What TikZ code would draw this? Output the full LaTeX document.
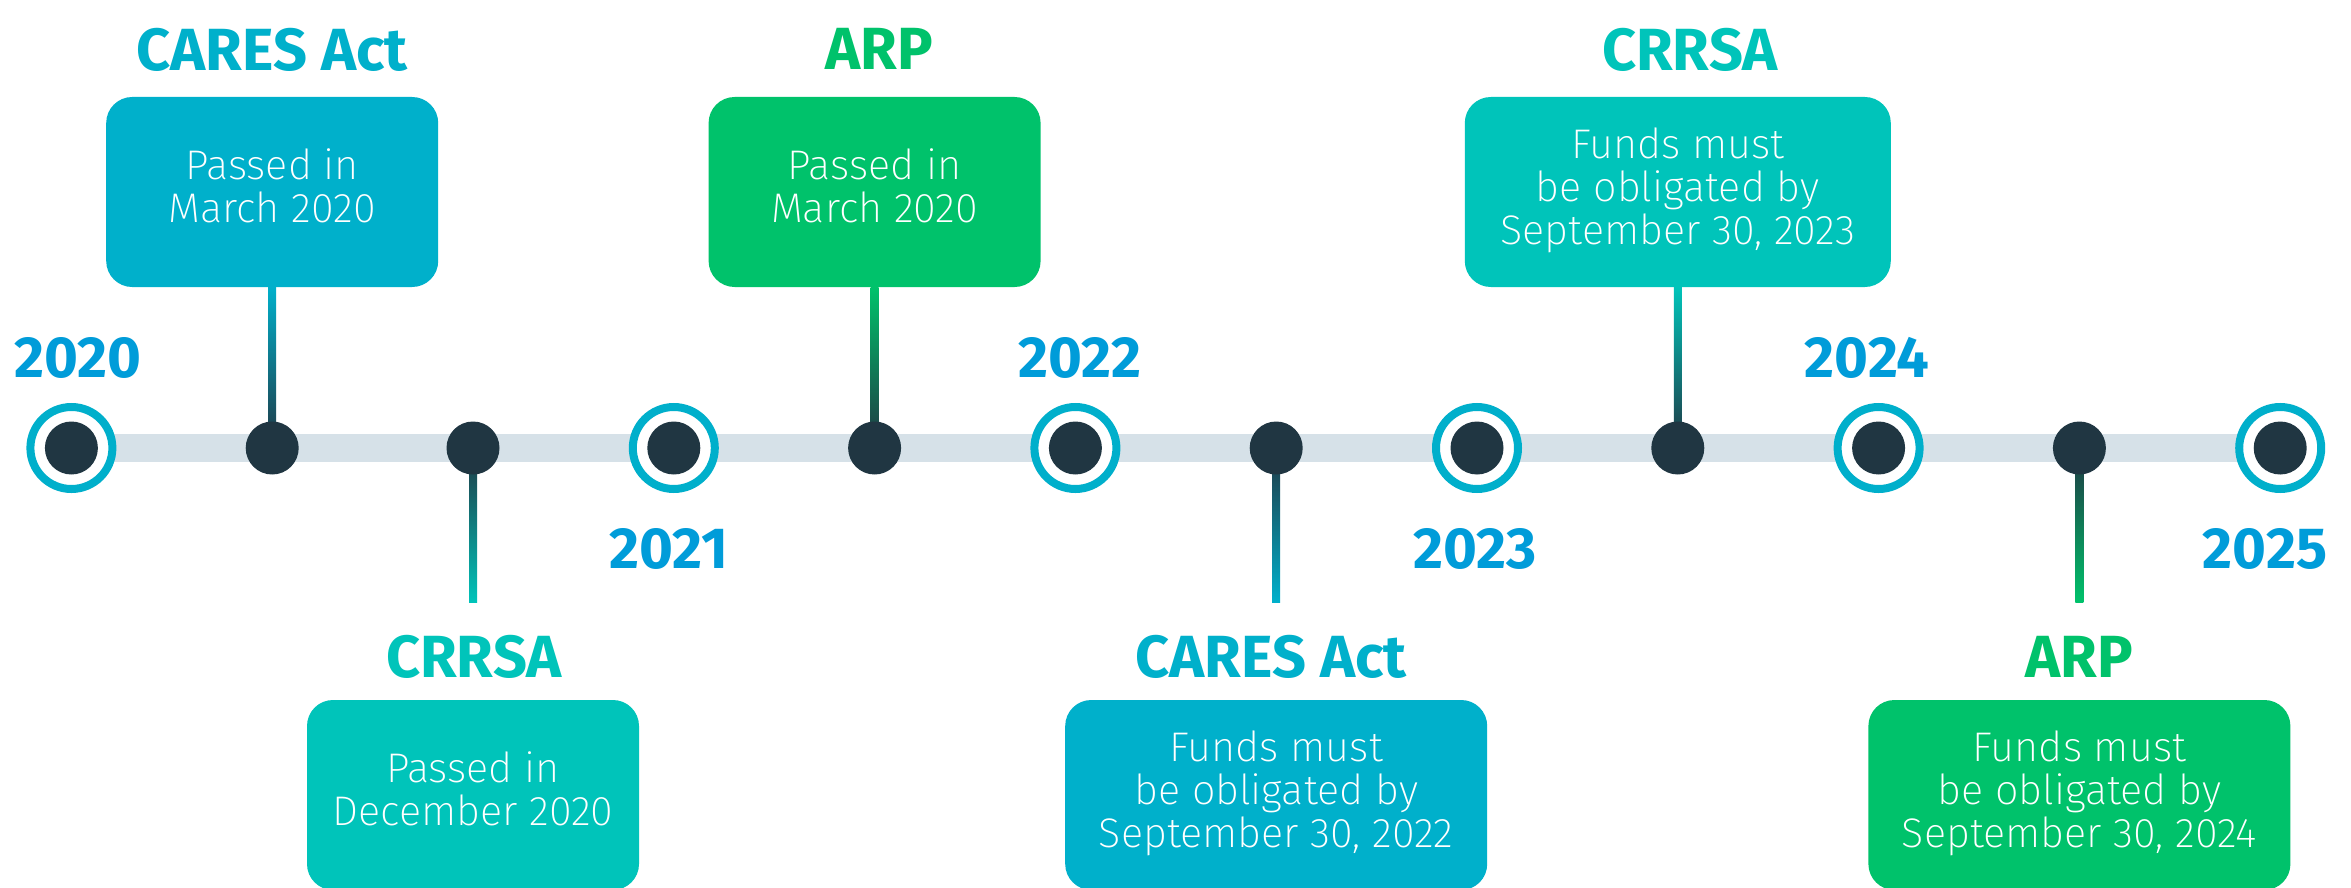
\documentclass[tikz,border=0pt]{standalone}
\usepackage{fontspec}
\setmainfont{Fira Sans}
\newfontfamily\lightfont{Fira Sans ExtraLight}
\usetikzlibrary{calc}
\definecolor{cares}{HTML}{00B0CB}
\definecolor{crrsa}{HTML}{00C4BA}
\definecolor{arp}{HTML}{00C26B}
\definecolor{yearc}{HTML}{009CD9}
\definecolor{ringc}{HTML}{00AFCB}
\definecolor{darkc}{HTML}{203642}
\definecolor{barc}{HTML}{D6E1E8}
\begin{document}
\begin{tikzpicture}[x=1pt,y=-1pt,
  evbox/.style={rectangle, rounded corners=26pt, minimum width=#1, inner sep=0pt},
  evtext/.style={align=center, text=white, inner sep=0pt, font=\lightfont\fontsize{41.4}{43}\selectfont},
  evtitle/.style={anchor=base, inner sep=0pt, font=\bfseries\fontsize{59.5}{60}\selectfont},
  yearlbl/.style={anchor=base, inner sep=0pt, text=yearc, font=\bfseries\fontsize{58}{58}\selectfont},
  ringnode/.style={circle, draw=ringc, line width=8pt, fill=white, minimum size=82pt, inner sep=0pt},
  dotnode/.style={circle, fill=darkc, minimum size=53pt, inner sep=0pt},
]
\useasboundingbox (0,0) rectangle (2351,888);
\fill[white] (0,0) rectangle (2351,888);

% positions
\foreach \k in {0,...,11} {\coordinate (p\k) at ({71.4+200.8*\k},448);}

% timeline bar
\draw[barc, line width=28pt] (p0) -- (p11);

% boxes (top)
\node[evbox=332pt, minimum height=190pt, fill=cares] (b1) at (272.2,192) {};
\node[evbox=332pt, minimum height=190pt, fill=arp] (b4) at (874.6,192) {};
\node[evbox=426pt, minimum height=190pt, fill=crrsa] (b8) at (1677.8,192) {};
% boxes (bottom)
\node[evbox=332pt, minimum height=190pt, fill=crrsa] (b2) at (473.0,795) {};
\node[evbox=422pt, minimum height=190pt, fill=cares] (b6) at (1276.2,795) {};
\node[evbox=422pt, minimum height=190pt, fill=arp] (b10) at (2079.4,795) {};

% connectors
\shade[top color=cares, bottom color=darkc] ($(b1.south)+(-4,0)$) rectangle ($(p1)+(4,0)$);
\shade[top color=arp, bottom color=darkc] ($(b4.south)+(-4,0)$) rectangle ($(p4)+(4,0)$);
\shade[top color=crrsa, bottom color=darkc] ($(b8.south)+(-4,0)$) rectangle ($(p8)+(4,0)$);
\coordinate (e2) at (473.0,602);
\coordinate (e6) at (1276.2,602);
\coordinate (e10) at (2079.4,602);
\shade[top color=darkc, bottom color=crrsa] ($(p2)+(-4,0)$) rectangle ($(e2)+(4,0)$);
\shade[top color=darkc, bottom color=cares] ($(p6)+(-4,0)$) rectangle ($(e6)+(4,0)$);
\shade[top color=darkc, bottom color=arp] ($(p10)+(-4,0)$) rectangle ($(e10)+(4,0)$);

% year rings
\foreach \k in {0,3,5,7,9,11} {\node[ringnode] (r\k) at (p\k) {};}
% dots
\foreach \k in {0,...,11} {\node[dotnode] (d\k) at (p\k) {};}

% box texts
\node[evtext] (t1) at (272.2,185.5) {Passed in\\March 2020};
\node[evtext] (t4) at (874.6,185.5) {Passed in\\March 2020};
\node[evtext] (t8) at (1677.8,190) {Funds must\\be obligated by\\September 30, 2023};
\node[evtext] (t2) at (473.0,788.4) {Passed in\\December 2020};
\node[evtext] (t6) at (1276.2,793.4) {Funds must\\be obligated by\\September 30, 2022};
\node[evtext] (t10) at (2079.4,793.4) {Funds must\\be obligated by\\September 30, 2024};

% titles
\node[evtitle, text=cares] (h1) at (272,71) {CARES Act};
\node[evtitle, text=arp] (h4) at (879.5,70) {ARP};
\node[evtitle, text=crrsa] (h8) at (1690,71) {CRRSA};
\node[evtitle, text=crrsa] (h2) at (474,677) {CRRSA};
\node[evtitle, text=cares] (h6) at (1271,677) {CARES Act};
\node[evtitle, text=arp] (h10) at (2079,677) {ARP};

% year labels
\node[yearlbl] (y0) at (78,377) {2020};
\node[yearlbl] (y3) at (669,568) {2021};
\node[yearlbl] (y5) at (1080,377) {2022};
\node[yearlbl] (y7) at (1475,568) {2023};
\node[yearlbl] (y9) at (1867,377) {2024};
\node[yearlbl] (y11) at (2265,568) {2025};
\end{tikzpicture}
\end{document}
